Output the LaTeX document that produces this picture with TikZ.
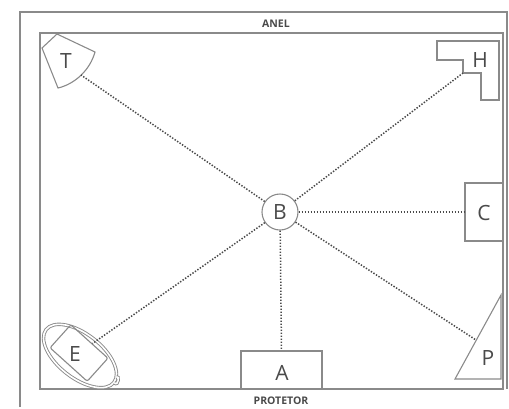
\documentclass[tikz,border=0pt]{standalone}
\usepackage{fontspec}
\setmainfont{Open Sans}
\usetikzlibrary{shapes.geometric}
\definecolor{edge}{HTML}{8A8A8A}
\definecolor{ink}{HTML}{4A4A4A}
\tikzset{
  outline/.style={draw=edge, line width=1.1pt, line join=miter},
  letter/.style={text=ink, font=\fontsize{21}{21}\selectfont, inner sep=0pt},
  caption/.style={text=ink, font=\bfseries\fontsize{10.5}{11}\selectfont, inner sep=0pt},
  link/.style={draw=ink, line width=1.5pt, dash pattern=on 1.4pt off 1.6pt},
  box/.style={outline, rectangle, inner sep=0pt}
}
\begin{document}
\begin{tikzpicture}[x=1pt, y=-1pt]
\useasboundingbox (0,0) rectangle (509,408);

% room walls
\draw[outline] (20,407) -- (20,12) -- (507,12) -- (507,389);
\draw[outline] (40,33) rectangle (503,389);
\node[caption] (anel) at (276,24) {ANEL};
\node[caption] (protetor) at (281,401) {PROTETOR};

% central station
\node[outline, circle, minimum size=36pt, inner sep=0pt, letter] (B) at (280,212) {B};

% T: fan-shaped piece in the top left corner
\draw[outline] (57,34) -- (42,48) -- (58,88) .. controls (75,84) and (90,70) .. (95,52) -- cycle;
\coordinate (tEnd) at (81,75);
\node[letter] (T) at (66,61) {T};

% H: stepped piece in the top right corner
\draw[outline] (437,41) -- (499,41) -- (499,100) -- (481,100) -- (481,73)
  -- (463,73) -- (463,60) -- (437,60) -- cycle;
\coordinate (hEnd) at (463,73);
\node[letter] (H) at (480,60) {H};

% C: box on the right wall
\node[box, minimum width=38pt, minimum height=58pt] (cBox) at (484,212) {};
\node[letter] (C) at (484,213) {C};

% A: box on the bottom wall
\node[box, minimum width=81pt, minimum height=38pt] (aBox) at (281.5,370) {};
\node[letter] (A) at (282,373) {A};

% P: triangle in the bottom right corner
\draw[outline] (501,295) -- (501,379) -- (455,379) -- cycle;
\coordinate (pEnd) at (476,340);
\node[letter] (P) at (488,358) {P};

% E: tilted box with a rope loop around it
\node[outline, ellipse, double=white, double distance=1.6pt, line width=0.9pt,
      minimum width=86pt, minimum height=44pt, rotate=-38] (loop) at (80,356) {};
\draw[draw=edge, line width=0.9pt, double=white, double distance=1.6pt]
  (loop.east) .. controls +(-45:6pt) and +(30:4pt) .. +(2,-6);
\node[box, rounded corners=2pt, minimum width=50pt, minimum height=31pt, rotate=-42] (eBox) at (79,353) {};
\node[letter] (E) at (75,354) {E};

% dotted connections from the station
\draw[link] (B) -- (tEnd);
\draw[link] (B) -- (hEnd);
\draw[link] (B) -- (cBox.west);
\draw[link] (B) -- (aBox.north);
\draw[link] (B) -- (pEnd);
\draw[link] (B) -- (eBox);
\end{tikzpicture}
\end{document}
